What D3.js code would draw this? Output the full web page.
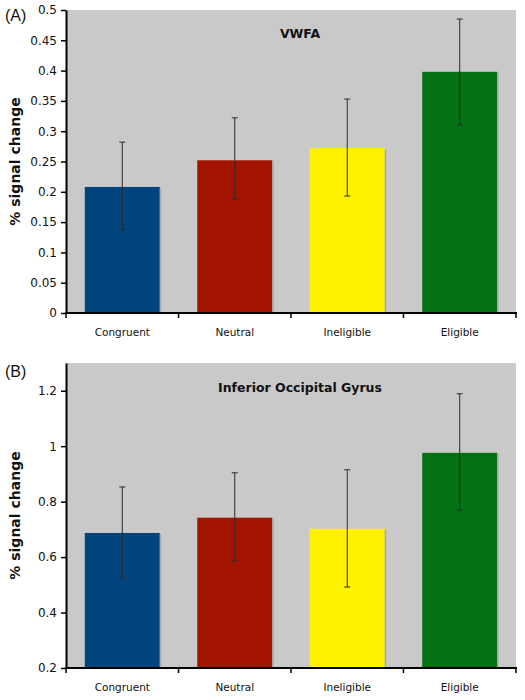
<!DOCTYPE html>
<html><head><meta charset="utf-8">
<script src="https://cdn.jsdelivr.net/npm/d3@7"></script>
<style>body{margin:0;background:#fff;} svg{display:block;}</style>
</head><body>
<svg id="c" width="525" height="700"></svg>
<script>
const categories = ["Congruent", "Neutral", "Ineligible", "Eligible"];
const colors = ["#00457d", "#a21400", "#fff200", "#047214"];
// Panel A: VWFA
const valuesA = [0.208, 0.252, 0.272, 0.398];
const errLowA = [0.137, 0.188, 0.193, 0.310];
const errHighA = [0.282, 0.322, 0.353, 0.485];
const ticksA = [0, 0.05, 0.1, 0.15, 0.2, 0.25, 0.3, 0.35, 0.4, 0.45, 0.5];
// Panel B: Inferior Occipital Gyrus
const valuesB = [0.687, 0.742, 0.702, 0.976];
const errLowB = [0.525, 0.586, 0.492, 0.770];
const errHighB = [0.853, 0.904, 0.915, 1.189];
const ticksB = [0.2, 0.4, 0.6, 0.8, 1, 1.2];

const svg = d3.select("#c");
const font = "'DejaVu Sans', Verdana, sans-serif";

function panel(cfg) {
  const {top, bottom, domain, ticks, values, lo, hi, title, titleY, letter, letterY} = cfg;
  const left = 66, right = 516;
  const x = d3.scaleBand().domain(categories).range([left, right]).paddingInner(0.333).paddingOuter(0.167);
  const y = d3.scaleLinear().domain(domain).range([bottom, top]);
  const g = svg.append("g");
  g.append("rect").attr("x", left).attr("y", top).attr("width", right - left).attr("height", bottom - top).attr("fill", "#c9c9c9");
  // bars
  g.selectAll(".bar").data(categories).join("rect")
    .attr("x", d => x(d)).attr("width", x.bandwidth())
    .attr("y", (d, i) => y(values[i])).attr("height", (d, i) => bottom - y(values[i]))
    .attr("fill", (d, i) => colors[i]);
  // shadow edge
  g.selectAll(".sh").data(categories).join("rect")
    .attr("x", d => x(d) + x.bandwidth()).attr("width", 1.5)
    .attr("y", (d, i) => y(values[i]) + 1).attr("height", (d, i) => bottom - y(values[i]) - 1)
    .attr("fill", "#a8a8a8");
  // error bars
  const eb = g.selectAll(".eb").data(categories).join("g");
  eb.append("line").attr("x1", d => x(d) + x.bandwidth() / 2).attr("x2", d => x(d) + x.bandwidth() / 2)
    .attr("y1", (d, i) => y(lo[i])).attr("y2", (d, i) => y(hi[i]))
    .attr("stroke", "#2a2a2a").attr("stroke-width", 1);
  [lo, hi].forEach(arr => {
    eb.append("line").attr("x1", d => x(d) + x.bandwidth() / 2 - 3).attr("x2", d => x(d) + x.bandwidth() / 2 + 3)
      .attr("y1", (d, i) => y(arr[i])).attr("y2", (d, i) => y(arr[i]))
      .attr("stroke", "#2a2a2a").attr("stroke-width", 1);
  });
  // y axis
  const ya = g.append("g").attr("transform", `translate(${left},0)`)
    .call(d3.axisLeft(y).tickValues(ticks).tickSize(5).tickSizeOuter(0).tickFormat(d => String(+d.toFixed(2))));
  ya.select(".domain").attr("stroke", "#000").attr("stroke-width", 2);
  ya.selectAll(".tick line").attr("stroke", "#000").attr("stroke-width", 1.5);
  ya.selectAll("text").attr("font-family", font).attr("font-size", 12).attr("fill", "#111").attr("x", -9);
  // x axis
  const xa = g.append("g").attr("transform", `translate(0,${bottom})`);
  xa.append("line").attr("x1", left - 1).attr("x2", right + 1).attr("stroke", "#000").attr("stroke-width", 2);
  const bounds = categories.map(d => x(d) - x.step() * x.paddingInner() / 2).concat([right]);
  xa.selectAll(".t").data(bounds).join("line").attr("x1", d => d).attr("x2", d => d).attr("y1", 0).attr("y2", 5)
    .attr("stroke", "#000").attr("stroke-width", 1.5);
  xa.selectAll(".lab").data(categories).join("text")
    .attr("x", d => x(d) + x.bandwidth() / 2).attr("y", 23).attr("text-anchor", "middle")
    .attr("font-family", font).attr("font-size", 10.5).attr("fill", "#111").text(d => d);
  // title
  g.append("text").attr("x", 300).attr("y", titleY).attr("text-anchor", "middle")
    .attr("font-family", font).attr("font-size", 12.5).attr("font-weight", "bold").attr("fill", "#111").text(title);
  // y label
  g.append("text").attr("transform", `translate(20,${(top + bottom) / 2}) rotate(-90)`).attr("text-anchor", "middle")
    .attr("font-family", font).attr("font-size", 14).attr("font-weight", "bold").attr("fill", "#111").text("% signal change");
  // letter
  g.append("text").attr("x", 5).attr("y", letterY).attr("font-family", "'Liberation Sans', Arial, sans-serif")
    .attr("font-size", 16).attr("fill", "#111").text(letter);
}

panel({top: 10, bottom: 313, domain: [0, 0.5], ticks: ticksA, values: valuesA, lo: errLowA, hi: errHighA,
  title: "VWFA", titleY: 38, letter: "(A)", letterY: 21});
panel({top: 363, bottom: 668, domain: [0.2, 1.3], ticks: ticksB, values: valuesB, lo: errLowB, hi: errHighB,
  title: "Inferior Occipital Gyrus", titleY: 392, letter: "(B)", letterY: 377});
</script>
</body></html>
